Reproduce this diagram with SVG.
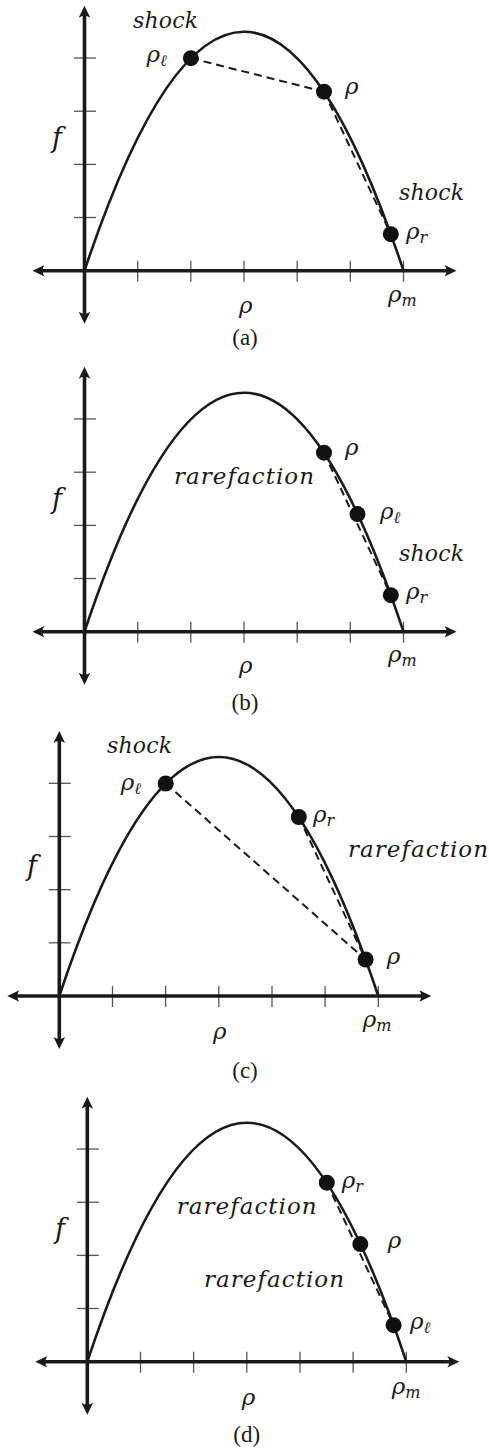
<svg xmlns="http://www.w3.org/2000/svg" width="489" height="1450" viewBox="0 0 489 1450">
<style>
.bg{fill:#fff}
.axis{stroke:#1a1a1a;stroke-width:3.6;fill:none;marker-start:url(#ah);marker-end:url(#ah)}
.tick{stroke:#555;stroke-width:1.3}
.curve{stroke:#1a1a1a;stroke-width:2.6;fill:none}
.dash{stroke:#1a1a1a;stroke-width:2;stroke-dasharray:8 5;fill:none}
.dot{fill:#111}
text{fill:#1a1a1a}
.m,.f,.w,.s{font-family:'DejaVu Serif',serif;font-style:italic}
.m{font-size:23px}
.f{font-size:27px}
.sub{font-size:16px}
.w{font-size:23px}
.s{font-size:22px}
.cap{font-family:'Liberation Serif','Times New Roman',serif;font-size:23px;text-anchor:middle}
</style>
<defs>
<marker id="ah" viewBox="-13 -7 21 14" refX="-7" refY="0" markerWidth="21" markerHeight="14" markerUnits="userSpaceOnUse" orient="auto-start-reverse">
<path d="M0,0 L-12,-5.8 Q-8,0 -12,5.8 Z" fill="#1a1a1a"/>
</marker>
<g id="axes">
<g class="ticks">
<line class="tick" x1="53.2" y1="-10" x2="53.2" y2="11"/>
<line class="tick" x1="106.3" y1="-10" x2="106.3" y2="11"/>
<line class="tick" x1="159.5" y1="-10" x2="159.5" y2="11"/>
<line class="tick" x1="212.7" y1="-10" x2="212.7" y2="11"/>
<line class="tick" x1="265.8" y1="-10" x2="265.8" y2="11"/>
<line class="tick" x1="319" y1="-10" x2="319" y2="11"/>
<line class="tick" x1="-10.5" y1="-53.2" x2="11.5" y2="-53.2"/>
<line class="tick" x1="-10.5" y1="-106.3" x2="11.5" y2="-106.3"/>
<line class="tick" x1="-10.5" y1="-159.5" x2="11.5" y2="-159.5"/>
<line class="tick" x1="-10.5" y1="-212.7" x2="11.5" y2="-212.7"/>
</g>
<line class="axis" x1="-45" y1="0" x2="365" y2="0"/>
<line class="axis" x1="0" y1="-258" x2="0" y2="46"/>
<path class="curve" d="M0,0 Q159.5,-478 319,0"/>
</g>
<circle id="pt" class="dot" r="8"/>
</defs>
<rect class="bg" x="0" y="0" width="489" height="1450"/>

<g id="panel-a" transform="translate(84.5,270.7)">
<use href="#axes"/>
<g id="a-connectors">
<line class="dash" x1="106.4" y1="-212.5" x2="239.5" y2="-179"/>
<line class="dash" x1="239.5" y1="-179" x2="306.3" y2="-36.5"/>
</g>
<g id="a-rho-l"><use href="#pt" x="106.4" y="-212.5"/><text class="m" x="62" y="-209">ρ<tspan class="sub" dy="4">ℓ</tspan></text></g>
<g id="a-rho"><use href="#pt" x="239.5" y="-179"/><text class="m" x="260.5" y="-176.7">ρ</text></g>
<g id="a-rho-r"><use href="#pt" x="306.3" y="-36.5"/><text class="m" x="321.5" y="-31.7">ρ<tspan class="sub" dy="4">r</tspan></text></g>
<text class="s" x="48.5" y="-242.7" textLength="65" lengthAdjust="spacing">shock</text>
<text class="s" x="314.5" y="-70.7" textLength="65" lengthAdjust="spacing">shock</text>
<text class="m" x="303.5" y="31.3">ρ<tspan class="sub" dy="4">m</tspan></text>
<text class="m" x="154.5" y="42.3">ρ</text>
<text class="f" x="-32.5" y="-124">f</text>
<text class="cap" x="160.5" y="74.3">(a)</text>
</g>

<g id="panel-b" transform="translate(84.5,631.7)">
<use href="#axes"/>
<g id="b-connectors">
<line class="dash" x1="239.5" y1="-179" x2="306.3" y2="-36.5"/>
</g>
<g id="b-rho"><use href="#pt" x="239.5" y="-179"/><text class="m" x="260.5" y="-176.7">ρ</text></g>
<g id="b-rho-l"><use href="#pt" x="273" y="-117.6"/><text class="m" x="295.5" y="-112.7">ρ<tspan class="sub" dy="4">ℓ</tspan></text></g>
<g id="b-rho-r"><use href="#pt" x="306.3" y="-36.5"/><text class="m" x="321.5" y="-32.7">ρ<tspan class="sub" dy="4">r</tspan></text></g>
<text class="w" x="89.5" y="-147.7" textLength="140" lengthAdjust="spacing">rarefaction</text>
<text class="s" x="314.5" y="-71" textLength="65" lengthAdjust="spacing">shock</text>
<text class="m" x="303.5" y="30">ρ<tspan class="sub" dy="4">m</tspan></text>
<text class="m" x="154.5" y="41.3">ρ</text>
<text class="f" x="-32.5" y="-124">f</text>
<text class="cap" x="160.5" y="78.3">(b)</text>
</g>

<g id="panel-c" transform="translate(59.3,996)">
<use href="#axes"/>
<g id="c-connectors">
<line class="dash" x1="106.4" y1="-212.5" x2="306.3" y2="-36.5"/>
<line class="dash" x1="239.5" y1="-179" x2="306.3" y2="-36.5"/>
</g>
<g id="c-rho-l"><use href="#pt" x="106.4" y="-212.5"/><text class="m" x="61.4" y="-206">ρ<tspan class="sub" dy="4">ℓ</tspan></text></g>
<g id="c-rho-r"><use href="#pt" x="239.5" y="-179"/><text class="m" x="253.7" y="-174">ρ<tspan class="sub" dy="4">r</tspan></text></g>
<g id="c-rho"><use href="#pt" x="306.3" y="-36.5"/><text class="m" x="327.4" y="-32">ρ</text></g>
<text class="s" x="47.7" y="-243" textLength="65" lengthAdjust="spacing">shock</text>
<text class="w" x="288.7" y="-139" textLength="140" lengthAdjust="spacing">rarefaction</text>
<text class="m" x="303.4" y="31">ρ<tspan class="sub" dy="4">m</tspan></text>
<text class="m" x="153.7" y="43">ρ</text>
<text class="f" x="-32.3" y="-121">f</text>
<text class="cap" x="185.7" y="82">(c)</text>
</g>

<g id="panel-d" transform="translate(87.3,1361.7)">
<use href="#axes"/>
<g id="d-connectors">
<line class="dash" x1="239.5" y1="-179" x2="306.3" y2="-36.5"/>
</g>
<g id="d-rho-r"><use href="#pt" x="239.5" y="-179"/><text class="m" x="254.4" y="-173.7">ρ<tspan class="sub" dy="4">r</tspan></text></g>
<g id="d-rho"><use href="#pt" x="273" y="-117.6"/><text class="m" x="300.4" y="-113.4">ρ</text></g>
<g id="d-rho-l"><use href="#pt" x="306.3" y="-36.5"/><text class="m" x="322.7" y="-32.7">ρ<tspan class="sub" dy="4">ℓ</tspan></text></g>
<text class="w" x="89.4" y="-147.7" textLength="140" lengthAdjust="spacing">rarefaction</text>
<text class="w" x="116.7" y="-74.7" textLength="140" lengthAdjust="spacing">rarefaction</text>
<text class="m" x="304.4" y="32.3">ρ<tspan class="sub" dy="4">m</tspan></text>
<text class="m" x="154.4" y="43.3">ρ</text>
<text class="f" x="-32.3" y="-123.7">f</text>
<text class="cap" x="159.4" y="80">(d)</text>
</g>
</svg>
